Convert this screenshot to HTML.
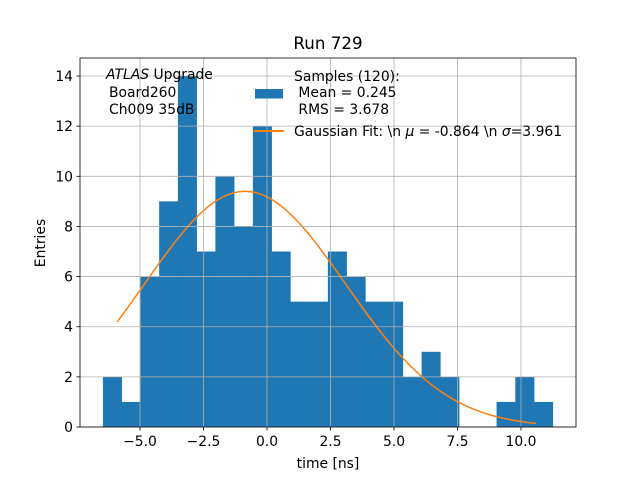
<!DOCTYPE html>
<html><head><meta charset="utf-8"><style>
body{margin:0;background:#fff;}
svg{display:block;font-family:"DejaVu Sans","Liberation Sans",sans-serif;}
</style></head><body>
<svg id="chart" width="640" height="480">
<rect x="0" y="0" width="640" height="480" fill="#fff"/>
<g id="bars"></g>
<g id="curve"></g>
<g id="grid"></g>
<g id="axes"></g>
<text x="328" y="49" font-size="16.7" text-anchor="middle">Run 729</text>
<text x="328" y="468" font-size="13.9" text-anchor="middle">time [ns]</text>
<text transform="translate(45,243) rotate(-90)" font-size="13.9" text-anchor="middle">Entries</text>
<g font-size="13.9">
<text x="106" y="79"><tspan font-style="italic">ATLAS</tspan> Upgrade</text>
<text x="109" y="97">Board260</text>
<text x="109" y="114">Ch009 35dB</text>
</g>
<g font-size="13.9">
<rect x="255" y="89" width="28" height="9.5" fill="#1f77b4"/>
<text x="294" y="81">Samples (120):</text>
<text x="294" y="97">&#160;Mean = 0.245</text>
<text x="294" y="114">&#160;RMS = 3.678</text>
<line x1="254" y1="131" x2="284" y2="131" stroke="#ff7f0e" stroke-width="2"/>
<text x="294" y="136">Gaussian Fit: \n <tspan font-style="italic">μ</tspan> = -0.864 \n <tspan font-style="italic">σ</tspan>=3.961</text>
</g>
</svg>
<script>
const binStart = -6.46;
const binWidth = 0.738;
const counts = [2,1,6,9,14,7,10,8,12,7,5,5,7,6,5,5,2,3,2,0,0,1,2,1];
const xTicks = [-5.0,-2.5,0.0,2.5,5.0,7.5,10.0];
const yTicks = [0,2,4,6,8,10,12,14];
const fitMu = -0.864, fitSigma = 3.961, fitAmp = 9.4;
const fitRange = [-5.9, 10.6];

const L=80,R=576,T=58,B=427;
const sx = v => 267 + v*25.4;
const sy = v => 427 - v*25.07;
const NS="http://www.w3.org/2000/svg";
function mk(tag, parent, attrs){const e=document.createElementNS(NS,tag);for(const k in attrs)e.setAttribute(k,attrs[k]);parent.appendChild(e);return e;}
const bars=document.getElementById('bars');
counts.forEach((c,i)=>{
  if(c<=0) return;
  const x0=sx(binStart+i*binWidth), x1=sx(binStart+(i+1)*binWidth);
  const r=mk('rect',bars,{x:x0,y:sy(c),width:x1-x0+0.3,height:sy(0)-sy(c),fill:'#1f77b4'});
  
  
});
const grid=document.getElementById('grid');
const axes=document.getElementById('axes');
xTicks.forEach(t=>{
  const x=sx(t);
  const g=mk('line',grid,{x1:x,x2:x,y1:T,y2:B,stroke:'#b0b0b0','stroke-width':0.8});
  
  
  mk('line',axes,{x1:x,x2:x,y1:B,y2:B+3.5,stroke:'#000','stroke-width':0.8});
  const tx=mk('text',axes,{x:x,y:B+19,'font-size':13.9,'text-anchor':'middle'});
  tx.textContent=(t<0?'\u2212':'')+Math.abs(t).toFixed(1);
  
  
});
yTicks.forEach(t=>{
  const y=sy(t);
  const g=mk('line',grid,{x1:L,x2:R,y1:y,y2:y,stroke:'#b0b0b0','stroke-width':0.8});
  
  
  mk('line',axes,{x1:L-3.5,x2:L,y1:y,y2:y,stroke:'#000','stroke-width':0.8});
  const tx=mk('text',axes,{x:L-7,y:y+5,'font-size':13.9,'text-anchor':'end'});
  tx.textContent=String(t);
  
  
});
const frame=mk('rect',axes,{x:L,y:T,width:R-L,height:B-T,fill:'none',stroke:'#000','stroke-width':0.8});


let d='';
for(let i=0;i<=100;i++){
  const v=fitRange[0]+(fitRange[1]-fitRange[0])*i/100;
  const f=fitAmp*Math.exp(-Math.pow(v-fitMu,2)/(2*fitSigma*fitSigma));
  d+=(i?'L':'M')+sx(v).toFixed(2)+' '+sy(f).toFixed(2);
}
const p=mk('path',document.getElementById('curve'),{d:d,fill:'none',stroke:'#ff7f0e','stroke-width':1.5});


</script>
</body></html>
